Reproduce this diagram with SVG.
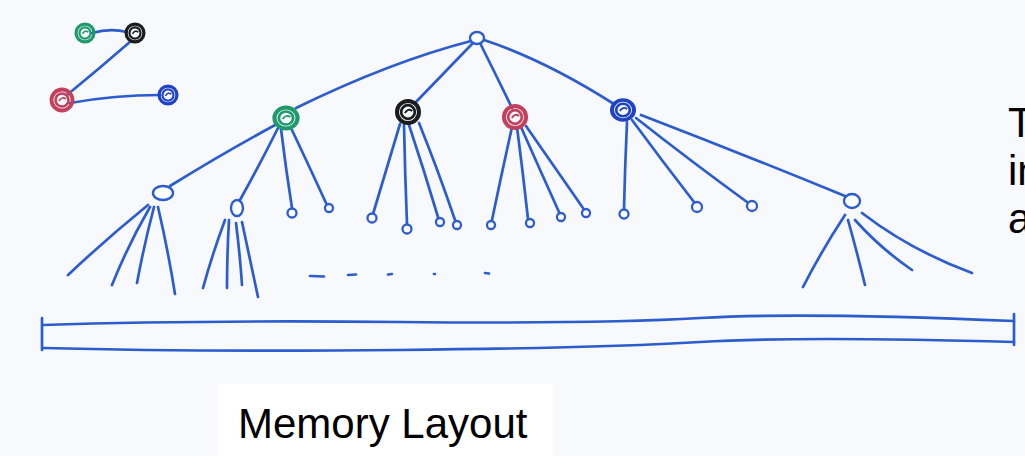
<svg xmlns="http://www.w3.org/2000/svg" width="1025" height="456" viewBox="0 0 1025 456">
  <style>
    .pen { fill: none; stroke: #2b5dcf; stroke-width: 2.7; stroke-linecap: round; stroke-linejoin: round; }
    .leaf { fill: #ffffff; stroke: #2b5dcf; stroke-width: 2.3; }
    .hub { fill: #ffffff; stroke: #2b5dcf; stroke-width: 2.4; }
    .label { font-family: "Liberation Sans", Arial, sans-serif; font-size: 42px; fill: #000000; }
  </style>
  <defs>
    <!-- scribbled coloured node: outer ring, inner ring, small curl -->
    <g id="scribble">
      <circle r="10.5" fill="none" stroke-width="3.8"/>
      <circle r="6.5" fill="none" stroke-width="2.6"/>
      <path d="M-3,1 Q0,-4 4,-1" fill="none" stroke-width="1.8"/>
    </g>
  </defs>

  <rect x="0" y="0" width="1025" height="456" fill="#f8f9fc"/>

  <!-- legend: four coloured nodes in a zig-zag -->
  <g id="legend">
    <g class="pen">
      <path d="M92,33 Q110,28 127,32"/>
      <path d="M131,41 Q100,68 67,95"/>
      <path d="M70,103 Q115,95 160,95"/>
    </g>
    <use href="#scribble" stroke="#1f9a6c" transform="translate(85,33) scale(0.85)"/>
    <use href="#scribble" stroke="#1c1c1c" transform="translate(135,33) scale(0.85)"/>
    <use href="#scribble" stroke="#c3405c" transform="translate(62,100)"/>
    <use href="#scribble" stroke="#1f43c4" transform="translate(168,95) scale(0.85)"/>
  </g>

  <!-- tree edges -->
  <g id="connectors" class="pen">
    <!-- root to level 1 -->
    <path d="M471,41 Q390,62 296,108"/>
    <path d="M472,44 Q445,72 416,102"/>
    <path d="M481,45 Q496,75 512,108"/>
    <path d="M484,40 Q545,60 614,104"/>
    <!-- green node -->
    <path d="M277,124 Q225,152 170,186"/>
    <path d="M278,128 Q258,168 240,200"/>
    <path d="M281,129 Q286,170 292,208"/>
    <path d="M291,128 Q310,168 326,203"/>
    <!-- black node -->
    <path d="M400,124 Q386,170 373,214"/>
    <path d="M404,125 Q405,175 407,224"/>
    <path d="M409,125 Q424,170 438,217"/>
    <path d="M419,123 Q438,170 455,220"/>
    <!-- red node -->
    <path d="M512,127 Q502,172 492,220"/>
    <path d="M517,127 Q523,173 528,219"/>
    <path d="M521,127 Q540,170 559,212"/>
    <path d="M526,126 Q555,168 583,208"/>
    <!-- blue node -->
    <path d="M627,122 Q625,165 624,209"/>
    <path d="M632,120 Q663,162 694,202"/>
    <path d="M636,118 Q692,162 747,202"/>
    <path d="M641,115 Q745,155 845,196"/>
    <!-- left hub -->
    <path d="M148,205 Q105,240 68,275"/>
    <path d="M150,207 Q128,245 112,285"/>
    <path d="M154,207 Q144,245 137,283"/>
    <path d="M158,207 Q168,250 175,294"/>
    <!-- second hub -->
    <path d="M225,220 Q212,255 203,288"/>
    <path d="M229,220 Q227,255 227,288"/>
    <path d="M236,223 Q240,255 242,285"/>
    <path d="M242,222 Q250,260 258,297"/>
    <!-- right hub -->
    <path d="M845,215 Q822,250 803,287"/>
    <path d="M848,220 Q857,252 865,285"/>
    <path d="M855,220 Q880,248 912,270"/>
    <path d="M862,213 Q910,250 972,273"/>
    <!-- elided subtrees -->
    <path d="M310,276 L324,276.5"/>
    <path d="M348,275 L356,274.5"/>
    <path d="M388,274.5 L392,274"/>
    <path d="M434,274 L435,274"/>
    <path d="M485,273 L489,273.5"/>
  </g>

  <!-- root -->
  <g id="root">
    <ellipse class="hub" cx="477" cy="38" rx="7" ry="6"/>
  </g>

  <!-- level 1 -->
  <g id="node-green"><use href="#scribble" transform="translate(286,118) scale(1.1,1)" stroke="#1f9a6c"/></g>
  <g id="node-black"><use href="#scribble" transform="translate(408,112) scale(1.05)" stroke="#1c1c1c"/></g>
  <g id="node-red"><use href="#scribble" transform="translate(515,117) scale(1.05)" stroke="#c3405c"/></g>
  <g id="node-blue"><use href="#scribble" transform="translate(623,110) scale(1.05,0.95)" stroke="#1f43c4"/></g>

  <!-- inner hubs -->
  <g id="hub-left"><ellipse class="hub" cx="163" cy="193" rx="10" ry="7"/></g>
  <g id="hub-second"><ellipse class="hub" cx="237" cy="208" rx="6" ry="8"/></g>
  <g id="hub-right"><ellipse class="hub" cx="852" cy="201" rx="8" ry="7"/></g>

  <!-- leaves -->
  <g id="leaf-1"><circle class="leaf" cx="292" cy="213" r="4.5"/></g>
  <g id="leaf-2"><circle class="leaf" cx="329" cy="208" r="4"/></g>
  <g id="leaf-3"><circle class="leaf" cx="372" cy="218" r="4.5"/></g>
  <g id="leaf-4"><circle class="leaf" cx="407" cy="229" r="4.5"/></g>
  <g id="leaf-5"><circle class="leaf" cx="440" cy="222" r="4"/></g>
  <g id="leaf-6"><circle class="leaf" cx="457" cy="225" r="4"/></g>
  <g id="leaf-7"><circle class="leaf" cx="491" cy="225" r="4"/></g>
  <g id="leaf-8"><circle class="leaf" cx="530" cy="223" r="4"/></g>
  <g id="leaf-9"><circle class="leaf" cx="561" cy="217" r="4"/></g>
  <g id="leaf-10"><circle class="leaf" cx="586" cy="213" r="4"/></g>
  <g id="leaf-11"><circle class="leaf" cx="624" cy="214" r="4.5"/></g>
  <g id="leaf-12"><circle class="leaf" cx="697" cy="207" r="5"/></g>
  <g id="leaf-13"><circle class="leaf" cx="752" cy="206" r="5"/></g>

  <!-- memory strip -->
  <g id="memory" class="pen">
    <path d="M42,318 L42,350"/>
    <path d="M43,325 Q200,320 400,322 T700,318 T1014,321"/>
    <path d="M43,348 Q200,352 400,350 T700,342 T1014,342"/>
    <path d="M1014,314 L1014,345"/>
  </g>

  <g id="caption">
    <rect x="218" y="384" width="335" height="72" fill="#ffffff"/>
    <text class="label" x="238" y="438">Memory Layout</text>
  </g>

  <!-- side note running past the right edge -->
  <g id="side-note">
    <text class="label" x="1008" y="137">T</text>
    <text class="label" x="1008" y="185">in</text>
    <text class="label" x="1008" y="233">a</text>
  </g>
</svg>
